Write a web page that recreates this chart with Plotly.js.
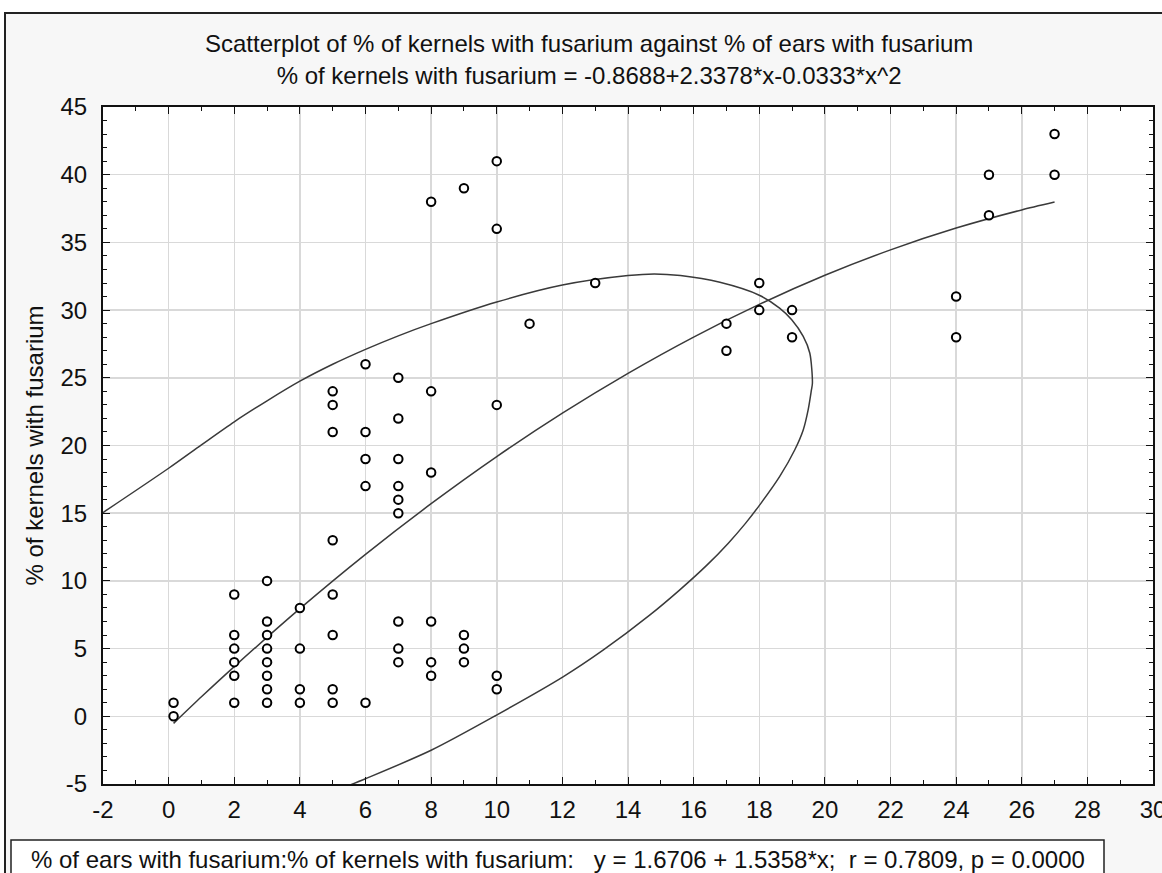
<!DOCTYPE html>
<html>
<head>
<meta charset="utf-8">
<script src="https://cdn.plot.ly/plotly-3.0.1.min.js"></script>
<style>
  html, body { margin:0; padding:0; background:#ffffff; overflow:hidden; }
  #frame { position:absolute; left:4px; top:12px; width:1300px; height:1000px;
           border-left:2px solid #222; border-top:2px solid #222; background:#f7f7f7; }
  #chart { position:absolute; left:0; top:0; width:1162px; height:873px; }
</style>
</head>
<body>
<div id="frame"></div>
<div id="chart"></div>
<script>
// ---- data ----
var earsPct = [0.15,0.15, 2,2,2,2,2,2, 3,3,3,3,3,3,3,3, 4,4,4,4, 5,5,5,5,5,5,5,5,
               6,6,6,6,6, 7,7,7,7,7,7,7,7,7, 8,8,8,8,8,8, 9,9,9,9, 10,10,10,10,10,
               11, 13, 17,17, 18,18, 19,19, 24,24, 25,25, 27,27];
var kernelsPct = [1,0, 9,6,5,4,3,1, 10,7,6,5,4,3,2,1, 8,5,2,1, 24,23,21,13,9,6,2,1,
                  26,21,19,17,1, 25,22,19,17,16,15,7,5,4, 38,24,18,7,4,3, 39,6,5,4, 41,36,23,3,2,
                  29, 32, 29,27, 32,30, 30,28, 31,28, 40,37, 43,40];

// fitted quadratic curve
var fitX = [0.15, 1, 2, 4, 6, 8, 10, 12, 14, 16, 18, 20, 22, 24, 26, 27];
var fitY = [-0.52, 1.44, 3.67, 7.95, 11.96, 15.70, 19.18, 22.39, 25.33, 28.01, 30.42, 32.57, 34.45, 36.06, 37.40, 37.98];

// ellipse (visible part)
var ellX = [-2.11, 0, 1, 2, 3, 4, 5, 6, 7, 8, 10, 12, 14, 14.8, 15.6, 16.8, 18.0, 18.62, 18.99, 19.34, 19.54, 19.62, 19.59, 19.49, 19.34, 19.08, 18.62, 18.05, 17.58, 17.05, 16.42, 15.57, 14.66, 13.24, 12.02, 9.98, 8.0, 6.0, 5.4];
var ellY = [14.87, 18.32, 20.05, 21.75, 23.3, 24.75, 26.0, 27.1, 28.1, 29.0, 30.6, 31.85, 32.55, 32.67, 32.55, 32.05, 31.1, 30.15, 29.29, 28.06, 26.83, 24.6, 24.11, 22.63, 21.15, 19.67, 17.7, 15.73, 14.25, 12.77, 11.2, 9.32, 7.47, 4.88, 2.91, 0.07, -2.51, -4.61, -5.2];

var xTickVals = [-2,0,2,4,6,8,10,12,14,16,18,20,22,24,26,28,30];
var xTickText = ['-2','0','2','4','6','8','10','12','14','16','18','20','22','24','26','28','30'];
var yTickVals = [-5,0,5,10,15,20,25,30,35,40,45];
var yTickText = ['-5','0','5','10','15','20','25','30','35','40','45'];

var titleLine1 = 'Scatterplot of % of kernels with fusarium against % of ears with fusarium';
var titleLine2 = '% of kernels with fusarium = -0.8688+2.3378*x-0.0333*x^2';
var yTitle = '% of kernels with fusarium';
var legendText = '% of ears with fusarium:% of kernels with fusarium:\u00a0\u00a0\u00a0y = 1.6706 + 1.5358*x;\u00a0\u00a0r = 0.7809, p = 0.0000';

// ---- layout geometry ----
var W = 1162, H = 873;
var mL = 103, mR = 9, mT = 107, mB = 89;
var pw = W - mL - mR, ph = H - mT - mB;
function px2paperX(px){ return (px - mL) / pw; }
function px2paperY(py){ return (H - mB - py) / ph; }

var FONT = 'Liberation Sans, Arial, sans-serif';

var traces = [
  { x: ellX, y: ellY, type:'scatter', mode:'lines',
    line:{color:'#3a3a3a', width:1.5, shape:'spline', smoothing:0.8}, hoverinfo:'skip', showlegend:false },
  { x: fitX, y: fitY, type:'scatter', mode:'lines',
    line:{color:'#3a3a3a', width:1.5, shape:'spline', smoothing:0.6}, hoverinfo:'skip', showlegend:false },
  { x: earsPct, y: kernelsPct, type:'scatter', mode:'markers',
    marker:{symbol:'circle', size:8.5, color:'#ffffff', line:{color:'#000', width:2}}, showlegend:false }
];

var axisCommon = {
  showline:true, linecolor:'#111', linewidth:2, mirror:'allticks',
  ticks:'inside', ticklen:7, tickwidth:1, tickcolor:'#111',
  showgrid:true, gridcolor:'#d9d9d9', gridwidth:1.5, zeroline:false,
  tickfont:{family:FONT, size:24, color:'#111'},
  tickmode:'array', automargin:false, ticklabeloverflow:'allow',
  minor:{ticks:'inside', ticklen:4, tickwidth:1, tickcolor:'#111', showgrid:false, tickmode:'linear', tick0:0, dtick:1}
};

var layout = {
  width: W, height: H,
  margin:{l:mL, r:mR, t:mT, b:mB, pad:0},
  paper_bgcolor:'rgba(0,0,0,0)', plot_bgcolor:'#ffffff',
  showlegend:false,
  title:{text: titleLine1 + '<br>' + titleLine2, font:{family:FONT, size:24, color:'#111'},
         xref:'container', x:0.507, xanchor:'center', yref:'container', y:0.940, yanchor:'top'},
  xaxis: Object.assign({}, axisCommon, {range:[-2,30], tickvals:xTickVals, ticktext:xTickText, ticklabelstandoff:3,
         title:{text:''}}),
  yaxis: Object.assign({}, axisCommon, {range:[-5,45], tickvals:yTickVals, ticktext:yTickText, ticklabelstandoff:9,
         title:{text:yTitle, font:{family:FONT, size:24, color:'#111'}, standoff:10}}),
  shapes:[
    {type:'rect', xref:'paper', yref:'paper', x0:px2paperX(11), x1:px2paperX(1104), y0:px2paperY(840), y1:px2paperY(900),
     line:{color:'#222', width:1.5}, fillcolor:'#ffffff', layer:'above'}
  ],
  annotations:[
    {text: legendText, xref:'paper', yref:'paper', x:px2paperX(29), y:px2paperY(859), xanchor:'left', yanchor:'middle',
     showarrow:false, font:{family:FONT, size:24, color:'#111'}}
  ]
};

Plotly.newPlot('chart', traces, layout, {displayModeBar:false, staticPlot:true});
</script>
</body>
</html>
